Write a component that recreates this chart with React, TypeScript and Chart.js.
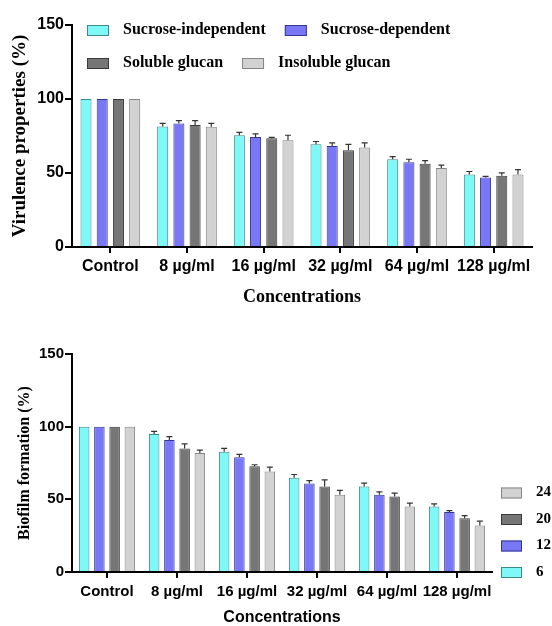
import React, { useEffect, useRef } from 'react';
import { Chart, registerables } from 'chart.js';

Chart.register(...registerables);

// ---------- data ----------
const categories = ['Control', '8 µg/ml', '16 µg/ml', '32 µg/ml', '64 µg/ml', '128 µg/ml'];
const yTicks = [0, 50, 100, 150];

// Top chart: virulence properties (%)
const sucroseIndependent = [100, 81.5, 75.5, 69.5, 59.3, 49];
const sucroseDependent = [100, 83.4, 74.3, 68.2, 57.3, 47];
const solubleGlucan = [100, 82.5, 73.4, 65.3, 56.2, 48.1];
const insolubleGlucan = [100, 81.3, 72.2, 67.3, 53.3, 49];
const sucroseIndependentErr = [0, 2, 2, 1.8, 1.8, 2];
const sucroseDependentErr = [0, 2, 2.2, 2.2, 2, 0.7];
const solubleGlucanErr = [0, 2.9, 0.7, 4, 2.2, 2];
const insolubleGlucanErr = [0, 2.2, 3.3, 3.1, 2, 3.3];

// Bottom chart: biofilm formation (%)
const h6 = [100, 95, 82.8, 64.8, 58.8, 45.1];
const h12 = [100, 90.9, 78.9, 60.9, 53.1, 41.2];
const h20 = [100, 84.9, 72.8, 58.8, 52, 37];
const h24 = [100, 81.9, 69.1, 53.1, 45.1, 32];
const h6Err = [0, 1.8, 2.3, 2.3, 2.3, 1.8];
const h12Err = [0, 2.3, 2, 2, 2, 1];
const h20Err = [0, 3.2, 1, 4.6, 2.3, 1.8];
const h24Err = [0, 2, 3, 3, 2.3, 3];

// ---------- styles ----------
const CYAN = '#7ff8f8';
const CYAN_B = '#3d8a8a';
const PURPLE = '#7878f6';
const PURPLE_B = '#37378f';
const DARK = '#767676';
const DARK_B = '#3a3a3a';
const LIGHT = '#d2d2d2';
const LIGHT_B = '#858585';

const SANS = '"Liberation Sans", Arial, sans-serif';
const SERIF = '"Liberation Serif", "Times New Roman", serif';

const errorBars = {
  id: 'errorBars',
  afterDatasetsDraw(chart: any) {
    const { ctx } = chart;
    const yScale = chart.scales.y;
    ctx.save();
    ctx.strokeStyle = '#333';
    ctx.lineWidth = 1.2;
    chart.data.datasets.forEach((ds: any, di: number) => {
      const meta = chart.getDatasetMeta(di);
      meta.data.forEach((bar: any, i: number) => {
        const e = ds.errors ? ds.errors[i] : 0;
        if (!e) return;
        const yTop = yScale.getPixelForValue(ds.data[i] + e);
        ctx.beginPath();
        ctx.moveTo(bar.x, bar.y);
        ctx.lineTo(bar.x, yTop);
        ctx.moveTo(bar.x - 3, yTop);
        ctx.lineTo(bar.x + 3, yTop);
        ctx.stroke();
      });
    });
    ctx.restore();
  },
};

const topLegend = {
  id: 'topLegend',
  afterDraw(chart: any) {
    const { ctx, chartArea } = chart;
    ctx.save();
    ctx.font = 'bold 16px ' + SERIF;
    ctx.textBaseline = 'middle';
    ctx.textAlign = 'left';
    const rows = [[0, 1], [2, 3]];
    rows.forEach((row, r) => {
      let x = chartArea.left + 15;
      const y = chartArea.top + 5 + r * 33;
      row.forEach((i) => {
        const ds = chart.data.datasets[i];
        ctx.fillStyle = ds.backgroundColor;
        ctx.fillRect(x, y - 5, 22, 11);
        ctx.strokeStyle = ds.borderColor;
        ctx.lineWidth = 1;
        ctx.strokeRect(x + 0.5, y - 4.5, 21, 10);
        ctx.fillStyle = '#000';
        ctx.fillText(ds.label, x + 36, y);
        x += 36 + ctx.measureText(ds.label).width + 19;
      });
    });
    ctx.restore();
  },
};

const rightLegend = {
  id: 'rightLegend',
  afterDraw(chart: any) {
    const { ctx, chartArea } = chart;
    ctx.save();
    ctx.font = 'bold 15px ' + SERIF;
    ctx.textBaseline = 'middle';
    ctx.textAlign = 'left';
    chart.data.datasets.forEach((ds: any, i: number) => {
      const y = chartArea.bottom - i * 26.5;
      const x = chartArea.right + 9;
      ctx.fillStyle = ds.backgroundColor;
      ctx.fillRect(x, y - 5, 21, 11);
      ctx.strokeStyle = ds.borderColor;
      ctx.lineWidth = 1;
      ctx.strokeRect(x + 0.5, y - 4.5, 20, 10);
      ctx.fillStyle = '#000';
      ctx.fillText(ds.label, x + 35, y);
    });
    ctx.restore();
  },
};

function makeDs(label: string, data: number[], errors: number[], bg: string, border: string, catPct: number, barPct: number) {
  return {
    label,
    data,
    errors,
    backgroundColor: bg,
    borderColor: border,
    borderWidth: 1,
    categoryPercentage: catPct,
    barPercentage: barPct,
  } as any;
}

function makeOptions(o: {
  padTop: number; padRight: number; yWidth: number; xHeight: number;
  tickFont: number; xTickPad: number; yTitle: string; yTitleSize: number; yTitlePad: number;
  xTitleFont: any; xTitlePad: number;
}) {
  return {
    responsive: true,
    maintainAspectRatio: false,
    animation: false,
    layout: { padding: { top: o.padTop, right: o.padRight, left: 0, bottom: 0 } },
    plugins: { legend: { display: false }, tooltip: { enabled: false } },
    scales: {
      x: {
        grid: { offset: false, drawOnChartArea: false, drawTicks: true, tickLength: 6, color: '#000', lineWidth: 2 },
        border: { display: true, color: '#000', width: 2 },
        ticks: { color: '#000', padding: o.xTickPad, font: { family: SANS, size: o.tickFont, weight: 'bold', lineHeight: 1 }, maxRotation: 0, autoSkip: false },
        title: { display: true, text: 'Concentrations', color: '#000', font: o.xTitleFont, padding: { top: 0, bottom: o.xTitlePad } },
        afterFit: (s: any) => { s.height = o.xHeight; },
      },
      y: {
        min: 0,
        max: 150,
        afterBuildTicks: (s: any) => { s.ticks = yTicks.map((v) => ({ value: v })); },
        grid: { drawOnChartArea: false, drawTicks: true, tickLength: 7, color: '#000', lineWidth: 2 },
        border: { display: true, color: '#000', width: 2 },
        ticks: { color: '#000', padding: 1, font: { family: SANS, size: o.tickFont, weight: 'bold', lineHeight: 1 } },
        title: { display: true, text: o.yTitle, color: '#000', font: { family: SERIF, size: o.yTitleSize, weight: 'bold', lineHeight: 1 }, padding: { top: o.yTitlePad, bottom: 0 } },
        afterFit: (s: any) => { s.width = o.yWidth; },
      },
    },
  } as any;
}

export default function App() {
  const topRef = useRef<HTMLCanvasElement>(null);
  const botRef = useRef<HTMLCanvasElement>(null);

  useEffect(() => {
    const c1 = new Chart(topRef.current as HTMLCanvasElement, {
      type: 'bar',
      data: {
        labels: categories,
        datasets: [
          makeDs('Sucrose-independent', sucroseIndependent, sucroseIndependentErr, CYAN, CYAN_B, 0.846, 0.68),
          makeDs('Sucrose-dependent', sucroseDependent, sucroseDependentErr, PURPLE, PURPLE_B, 0.846, 0.68),
          makeDs('Soluble glucan', solubleGlucan, solubleGlucanErr, DARK, DARK_B, 0.846, 0.68),
          makeDs('Insoluble glucan', insolubleGlucan, insolubleGlucanErr, LIGHT, LIGHT_B, 0.846, 0.68),
        ],
      },
      options: makeOptions({
        padTop: 25, padRight: 20, yWidth: 72, xHeight: 66, tickFont: 16, xTickPad: 6,
        yTitle: 'Virulence properties (%)', yTitleSize: 19, yTitlePad: 11,
        xTitleFont: { family: SERIF, size: 18, weight: 'bold', lineHeight: 1 }, xTitlePad: 7,
      }),
      plugins: [errorBars, topLegend],
    });

    const c2 = new Chart(botRef.current as HTMLCanvasElement, {
      type: 'bar',
      data: {
        labels: categories,
        datasets: [
          makeDs('6', h6, h6Err, CYAN, CYAN_B, 0.87, 0.69),
          makeDs('12', h12, h12Err, PURPLE, PURPLE_B, 0.87, 0.69),
          makeDs('20', h20, h20Err, DARK, DARK_B, 0.87, 0.69),
          makeDs('24', h24, h24Err, LIGHT, LIGHT_B, 0.87, 0.69),
        ],
      },
      options: makeOptions({
        padTop: 41, padRight: 60, yWidth: 72, xHeight: 54, tickFont: 15, xTickPad: 6,
        yTitle: 'Biofilm formation (%)', yTitleSize: 16, yTitlePad: 17,
        xTitleFont: { family: SANS, size: 16, weight: 'bold', lineHeight: 1 }, xTitlePad: 0,
      }),
      plugins: [errorBars, rightLegend],
    });

    return () => {
      c1.destroy();
      c2.destroy();
    };
  }, []);

  return (
    <div style={{ position: 'absolute', left: 0, top: 0, width: 552, height: 626, background: '#fff' }}>
      <div style={{ position: 'absolute', left: 0, top: 0, width: 552, height: 313 }}>
        <canvas ref={topRef} />
      </div>
      <div style={{ position: 'absolute', left: 0, top: 313, width: 552, height: 313 }}>
        <canvas ref={botRef} />
      </div>
    </div>
  );
}
